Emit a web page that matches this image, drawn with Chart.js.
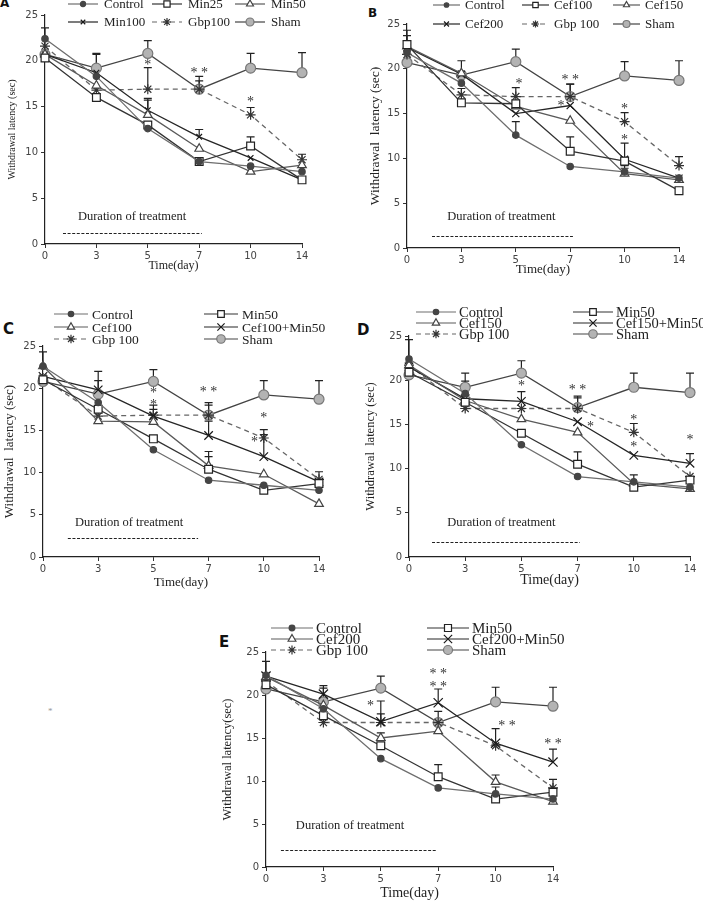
<!DOCTYPE html>
<html><head><meta charset="utf-8">
<script src="https://cdn.jsdelivr.net/npm/chart.js@4/dist/chart.umd.min.js"></script>
<style>
body{margin:0;background:#fff;width:705px;height:902px;position:relative;overflow:hidden}
canvas{position:absolute}
.lbl{position:absolute;font-family:'DejaVu Sans',sans-serif;font-weight:bold;color:#111;line-height:1}
</style></head><body>
<div class="lbl" style="left:0px;top:-3px;font-size:12px">A</div>
<div class="lbl" style="left:368px;top:7px;font-size:12px">B</div>
<div class="lbl" style="left:3px;top:322px;font-size:15px">C</div>
<div class="lbl" style="left:357px;top:323px;font-size:15px">D</div>
<div class="lbl" style="left:219px;top:635px;font-size:15px">E</div>
<div style="position:absolute;left:48px;top:706px;font:9px 'Liberation Serif';color:#999">*</div>
<canvas id="cA"></canvas><canvas id="cB"></canvas><canvas id="cC"></canvas><canvas id="cD"></canvas><canvas id="cE"></canvas>
<script>
// ---------- data ----------
const days = ['0','3','5','7','10','14'];
const yTicks = [0,5,10,15,20,25];

// Panel A
const aControl = [22.4, 18.3, 12.6, 9.0, 8.5, 7.9];
const aMin25   = [20.3, 16.0, 13.0, 9.0, 10.7, 7.0];
const aMin50   = [20.7, 17.3, 14.1, 10.4, 7.9, 8.6];
const aMin100  = [20.7, 18.7, 14.6, 11.7, 9.4, 7.0];
const aGbp     = [21.6, 16.8, 16.9, 16.9, 14.1, 9.2];
const aSham    = [20.7, 19.2, 20.8, 16.9, 19.2, 18.7];
const aControlErr = [1.2, 0, 0, 0, 0, 0];
const aMin25Err   = [0, 0, 0, 0, 1.0, 0];
const aMin50Err   = [0, 0, 1.6, 0, 0, 0];
const aMin100Err  = [0, 2.0, 1.3, 0.8, 0, 0];
const aGbpErr     = [0, 0, 2.35, 0.9, 0.8, 0.6];
const aShamErr    = [0, 1.6, 1.4, 1.4, 1.6, 2.2];
const aStars = [[2, 19.8, '*'], [3, 19.0, '* *'], [4, 15.8, '*']];

// Panel B
const bControl = [21.8, 18.4, 12.6, 9.1, 8.5, 7.8];
const bCef100  = [22.7, 16.2, 16.1, 10.8, 9.7, 6.4];
const bCef150  = [22.5, 19.5, 15.8, 14.2, 8.3, 7.6];
const bCef200  = [22.4, 19.4, 15.0, 15.9, 9.9, 7.8];
const bGbp     = [21.6, 17.1, 16.9, 16.9, 14.1, 9.2];
const bSham    = [20.7, 19.3, 20.8, 16.9, 19.2, 18.7];
const bControlErr = [1.9, 0, 1.5, 0, 0.7, 0];
const bCef100Err  = [1.6, 0, 0, 1.6, 0, 0];
const bCef150Err  = [0, 0, 0, 0, 0.6, 0];
const bCef200Err  = [0, 0, 0, 0, 1.8, 0];
const bGbpErr     = [0, 0.7, 1.0, 1.4, 1.0, 1.0];
const bShamErr    = [0, 1.6, 1.4, 1.4, 1.6, 2.2];
const bStars = [[2.06, 18.6, '*'], [3, 19.05, '* *'], [2.83, 16.2, '*'], [4, 15.8, '*'], [4, 12.3, '*']];

// Panel C
const cControl = [22.6, 18.3, 12.7, 9.1, 8.5, 7.9];
const cMin50   = [21.0, 17.5, 14.0, 10.4, 7.9, 8.7];
const cCef100  = [22.6, 16.1, 16.0, 10.8, 9.8, 6.3];
const cCombo   = [21.4, 19.8, 16.7, 14.4, 11.9, 8.9];
const cGbp     = [21.2, 16.7, 16.8, 16.8, 14.1, 9.2];
const cSham    = [20.8, 19.3, 20.8, 16.8, 19.2, 18.7];
const cControlErr = [0, 0, 0, 0, 0, 0];
const cMin50Err   = [0, 0, 0, 1.5, 0, 0];
const cCef100Err  = [1.7, 0, 0, 1.7, 0, 0];
const cComboErr   = [0, 2.2, 1.3, 1.7, 2.6, 0];
const cGbpErr     = [0, 0, 0.7, 1.2, 1.0, 0.9];
const cShamErr    = [0, 1.6, 1.4, 1.5, 1.7, 2.2];
const cStars = [[2, 19.8, '*'], [2, 18.3, '*'], [3, 19.9, '* *'], [4, 16.8, '*'], [3.83, 14.0, '*']];

// Panel D
const dControl = [22.4, 18.5, 12.7, 9.1, 8.5, 7.9];
const dMin50   = [20.9, 17.5, 14.0, 10.5, 7.9, 8.7];
const dCef150  = [21.7, 17.7, 15.6, 14.1, 8.3, 7.7];
const dCombo   = [21.5, 17.9, 17.6, 15.3, 11.5, 10.6];
const dGbp     = [21.7, 16.8, 16.8, 16.8, 14.1, 9.1];
const dSham    = [20.6, 19.2, 20.8, 16.9, 19.2, 18.6];
const dControlErr = [2.2, 0, 0, 0, 0.8, 0];
const dMin50Err   = [0, 0, 0, 1.4, 0, 0];
const dCef150Err  = [0, 0, 0, 0, 0, 0];
const dComboErr   = [0, 2.0, 1.1, 0, 0, 1.1];
const dGbpErr     = [0, 0, 0, 1.2, 1.0, 0];
const dShamErr    = [0, 1.6, 1.4, 1.3, 1.6, 2.2];
const dStars = [[2, 19.6, '*'], [3, 19.2, '* *'], [3.23, 15.0, '*'], [4, 15.75, '*'], [4, 12.7, '*'], [5, 13.5, '*']];

// Panel E
const eControl = [22.3, 18.4, 12.6, 9.2, 8.5, 7.9];
const eMin50   = [21.2, 17.6, 14.1, 10.5, 7.9, 8.7];
const eCef200  = [22.1, 18.8, 15.0, 15.8, 9.9, 7.6];
const eCombo   = [22.2, 20.1, 16.9, 19.1, 14.4, 12.2];
const eGbp     = [21.6, 16.8, 16.8, 16.8, 14.1, 9.2];
const eSham    = [20.7, 19.2, 20.8, 16.8, 19.2, 18.7];
const eControlErr = [1.6, 0, 0, 0, 0.8, 0];
const eMin50Err   = [0, 0, 0, 1.4, 0, 0];
const eCef200Err  = [0, 0, 0.6, 0, 0.8, 0];
const eComboErr   = [0, 1.0, 2.4, 1.6, 1.7, 1.5];
const eGbpErr     = [0, 0, 1.0, 1.3, 0, 1.0];
const eShamErr    = [0, 1.6, 1.4, 0, 1.7, 2.2];
const eStars = [[1.82, 19.0, '*'], [3, 22.7, '* *'], [3, 21.2, '* *'], [4.2, 16.7, '* *'], [5, 14.65, '* *']];

// ---------- styles ----------
const ST = {
  control: {borderColor:'#6e6e6e', pointBackgroundColor:'#454545', pointBorderColor:'#454545', pointStyle:'circle', pointRadius:3.2},
  sq:      {borderColor:'#333', pointBackgroundColor:'#fff', pointBorderColor:'#222', pointStyle:'rect', pointRadius:5.5},
  tri:     {borderColor:'#5a5a5a', pointBackgroundColor:'#fff', pointBorderColor:'#444', pointStyle:'triangle', pointRadius:5},
  x:       {borderColor:'#262626', pointBackgroundColor:'#fff', pointBorderColor:'#1a1a1a', pointStyle:'crossRot', pointRadius:5},
  gbp:     {borderColor:'#666', borderDash:[5,4], pointBackgroundColor:'#fff', pointBorderColor:'#333', pointStyle:'star', pointRadius:5},
  sham:    {borderColor:'#444', pointBackgroundColor:'#b3b3b3', pointBorderColor:'#777', pointStyle:'circle', pointRadius:5}
};
function ds(label, data, st, extra) {
  return Object.assign({label, data, borderWidth:1.3, pointBorderWidth:1.2, fill:false, tension:0}, ST[st], extra||{});
}

function drawMarker(ctx, d, x, y) {
  ctx.save();
  ctx.setLineDash([]);
  ctx.fillStyle = d.pointBackgroundColor || '#fff';
  ctx.strokeStyle = d.pointBorderColor;
  ctx.lineWidth = d.pointBorderWidth || 1.2;
  Chart.helpers.drawPoint(ctx, {pointStyle:d.pointStyle, radius:d.pointRadius, rotation:0, borderWidth:ctx.lineWidth}, x, y);
  ctx.restore();
}

function makePanel(P) {
  const cv = document.getElementById(P.id);
  const W = P.chart.right + P.padRight - P.canvas.left;
  const H = P.canvas.bottom - P.canvas.top;
  cv.width = W; cv.height = H;
  cv.style.left = P.canvas.left + 'px'; cv.style.top = P.canvas.top + 'px';
  cv.style.width = W + 'px'; cv.style.height = H + 'px';
  const padTop = P.chart.top - P.canvas.top;
  const yW = P.chart.left - P.canvas.left;
  const xH = P.canvas.bottom - P.chart.bottom;

  const overlay = {
    id: 'overlay_' + P.id,
    beforeDatasetsDraw(chart) {
      const {ctx} = chart, xs = chart.scales.x, ys = chart.scales.y;
      ctx.save(); ctx.strokeStyle = '#222'; ctx.lineWidth = 1.2; ctx.setLineDash([]);
      P.errs.forEach((arr, di) => {
        const vals = chart.data.datasets[di].data;
        arr.forEach((e, j) => {
          if (!e) return;
          const px = xs.getPixelForValue(j), p0 = ys.getPixelForValue(vals[j]), p1 = ys.getPixelForValue(vals[j] + e);
          ctx.beginPath(); ctx.moveTo(px, p0); ctx.lineTo(px, p1);
          ctx.moveTo(px - 4, p1); ctx.lineTo(px + 4, p1); ctx.stroke();
        });
      });
      ctx.restore();
    },
    afterDraw(chart) {
      const {ctx} = chart, xs = chart.scales.x, ys = chart.scales.y;
      ctx.save();
      // significance stars
      ctx.fillStyle = '#333'; ctx.font = P.starFont; ctx.textAlign = 'center'; ctx.textBaseline = 'middle';
      P.stars.forEach(([i, v, t]) => ctx.fillText(t, xs.getPixelForValue(i), ys.getPixelForValue(v) + 3));
      // duration of treatment
      const D = P.dur;
      ctx.fillStyle = '#222'; ctx.font = '12.5px "Liberation Serif"'; ctx.textAlign = 'left';
      ctx.fillText('Duration of treatment', xs.getPixelForValue(D.textI), ys.getPixelForValue(D.textV));
      ctx.strokeStyle = '#222'; ctx.lineWidth = 1; ctx.setLineDash([3, 1.6]);
      ctx.beginPath();
      const ly = Math.round(ys.getPixelForValue(D.lineV)) + 0.5;
      ctx.moveTo(xs.getPixelForValue(D.lineI0), ly); ctx.lineTo(xs.getPixelForValue(D.lineI1), ly); ctx.stroke();
      // legend
      const L = P.legend;
      ctx.font = L.font; ctx.textBaseline = 'middle'; ctx.textAlign = 'left';
      P.legendPos.forEach(([c, r], di) => {
        const d = chart.data.datasets[di];
        const x0 = L.cols[c] - P.canvas.left, yy = L.rows[r] - P.canvas.top;
        ctx.strokeStyle = d.borderColor; ctx.lineWidth = 1.2; ctx.setLineDash(d.borderDash || []);
        ctx.beginPath(); ctx.moveTo(x0, yy); ctx.lineTo(x0 + L.len, yy); ctx.stroke();
        drawMarker(ctx, Object.assign({}, d, {pointRadius: d.pointRadius * (L.mk || 1)}), x0 + L.len / 2, yy);
        ctx.fillStyle = '#222';
        ctx.fillText(d.label, x0 + L.len + L.gap, yy + 1);
      });
      ctx.restore();
    }
  };

  new Chart(cv, {
    type: 'line',
    data: {labels: days, datasets: P.datasets},
    options: {
      responsive: false, animation: false, devicePixelRatio: 1,
      layout: {padding: {top: padTop, right: P.padRight, left: 0, bottom: 0}},
      plugins: {legend: {display: false}, tooltip: {enabled: false}},
      scales: {
        x: {
          type: 'category', offset: false,
          grid: {display: true, drawOnChartArea: false, drawTicks: true, tickLength: 4, color: '#333'},
          border: {display: true, color: '#222', width: 1.2},
          ticks: {font: {family: 'DejaVu Sans', size: 10}, color: '#444', padding: 2, maxRotation: 0, autoSkip: false},
          title: {display: true, text: 'Time(day)', font: {family: 'Liberation Serif', size: P.xTitleSize}, color: '#222', padding: {top: 0, bottom: P.xTitlePad}},
          afterFit: s => { s.height = xH; }
        },
        y: {
          min: 0, max: 25,
          afterBuildTicks: s => { s.ticks = yTicks.map(v => ({value: v})); },
          grid: {display: true, drawOnChartArea: false, drawTicks: true, tickLength: 4, color: '#333'},
          border: {display: true, color: '#222', width: 1.2},
          ticks: {font: {family: 'DejaVu Sans', size: 10}, color: '#444', padding: 3},
          title: {display: true, text: P.yTitle, font: {family: 'Liberation Serif', size: P.yTitleSize}, color: '#222', padding: {top: P.yTitlePad, bottom: 0}},
          afterFit: s => { s.width = yW; }
        }
      }
    },
    plugins: [overlay]
  });
}

// ---------- panels ----------
makePanel({
  id: 'cA', canvas: {left: 2, top: 0, bottom: 277}, chart: {left: 45, top: 15, right: 302, bottom: 244}, padRight: 12,
  xTitleSize: 12, xTitlePad: 4, yTitle: 'Withdrawal latency (sec)', yTitleSize: 10, yTitlePad: 4, starFont: '14px "Liberation Serif"',
  datasets: [ds('Control', aControl, 'control'), ds('Min25', aMin25, 'sq'), ds('Min50', aMin50, 'tri'),
             ds('Min100', aMin100, 'x', {pointRadius: 4}), ds('Gbp100', aGbp, 'gbp'), ds('Sham', aSham, 'sham')],
  errs: [aControlErr, aMin25Err, aMin50Err, aMin100Err, aGbpErr, aShamErr],
  stars: aStars,
  dur: {textI: 0.64, textV: 2.95, lineI0: 0.35, lineI1: 3.05, lineV: 1.2},
  legend: {cols: [68, 152, 235], rows: [4, 22], len: 30, gap: 6, font: '13px "Liberation Serif"', mk: 0.8},
  legendPos: [[0,0],[1,0],[2,0],[0,1],[1,1],[2,1]]
});
makePanel({
  id: 'cB', canvas: {left: 363, top: 0, bottom: 281}, chart: {left: 407, top: 24, right: 679, bottom: 248}, padRight: 14,
  xTitleSize: 13, xTitlePad: 4, yTitle: 'Withdrawal  latency (sec)', yTitleSize: 13.5, yTitlePad: 4, starFont: '14px "Liberation Serif"',
  datasets: [ds('Control', bControl, 'control'), ds('Cef100', bCef100, 'sq'), ds('Cef150', bCef150, 'tri'),
             ds('Cef200', bCef200, 'x'), ds('Gbp 100', bGbp, 'gbp'), ds('Sham', bSham, 'sham')],
  errs: [bControlErr, bCef100Err, bCef150Err, bCef200Err, bGbpErr, bShamErr],
  stars: bStars,
  dur: {textI: 0.74, textV: 3.46, lineI0: 0.46, lineI1: 3.05, lineV: 1.34},
  legend: {cols: [433, 522, 613], rows: [5, 24], len: 27, gap: 5, font: '13px "Liberation Serif"', mk: 0.7},
  legendPos: [[0,0],[1,0],[2,0],[0,1],[1,1],[2,1]]
});
makePanel({
  id: 'cC', canvas: {left: 0, top: 295, bottom: 594}, chart: {left: 43, top: 346, right: 319, bottom: 557}, padRight: 14,
  xTitleSize: 13, xTitlePad: 4, yTitle: 'Withdrawal  latency (sec)', yTitleSize: 13, yTitlePad: 2, starFont: '14px "Liberation Serif"',
  datasets: [ds('Control', cControl, 'control'), ds('Min50', cMin50, 'sq'), ds('Cef100', cCef100, 'tri'),
             ds('Cef100+Min50', cCombo, 'x', {pointRadius: 6}), ds('Gbp 100', cGbp, 'gbp'), ds('Sham', cSham, 'sham')],
  errs: [cControlErr, cMin50Err, cCef100Err, cComboErr, cGbpErr, cShamErr],
  stars: cStars,
  dur: {textI: 0.58, textV: 4.03, lineI0: 0.45, lineI1: 2.81, lineV: 2.25},
  legend: {cols: [54, 204], rows: [314, 327, 339], len: 34, gap: 4, font: '13.5px "Liberation Serif"', mk: 0.85},
  legendPos: [[0,0],[1,0],[0,1],[1,1],[0,2],[1,2]]
});
makePanel({
  id: 'cD', canvas: {left: 359, top: 295, bottom: 593}, chart: {left: 409, top: 336, right: 690, bottom: 557}, padRight: 13,
  xTitleSize: 14, xTitlePad: 4, yTitle: 'Withdrawal  latency (sec)', yTitleSize: 12.5, yTitlePad: 4, starFont: '14px "Liberation Serif"',
  datasets: [ds('Control', dControl, 'control'), ds('Min50', dMin50, 'sq'), ds('Cef150', dCef150, 'tri'),
             ds('Cef150+Min50', dCombo, 'x', {pointRadius: 6}), ds('Gbp 100', dGbp, 'gbp'), ds('Sham', dSham, 'sham')],
  errs: [dControlErr, dMin50Err, dCef150Err, dComboErr, dGbpErr, dShamErr],
  stars: dStars,
  dur: {textI: 0.68, textV: 3.9, lineI0: 0.41, lineI1: 3.04, lineV: 1.72},
  legend: {cols: [416, 573], rows: [312, 323, 334], len: 40, gap: 3, font: '14.5px "Liberation Serif"', mk: 0.85},
  legendPos: [[0,0],[1,0],[0,1],[1,1],[0,2],[1,2]]
});
makePanel({
  id: 'cE', canvas: {left: 216, top: 605, bottom: 902}, chart: {left: 266, top: 652, right: 553, bottom: 867}, padRight: 14,
  xTitleSize: 14, xTitlePad: 0, yTitle: 'Withdrawal latency(sec)', yTitleSize: 12.5, yTitlePad: 4, starFont: '14px "Liberation Serif"',
  datasets: [ds('Control', eControl, 'control'), ds('Min50', eMin50, 'sq'), ds('Cef200', eCef200, 'tri'),
             ds('Cef200+Min50', eCombo, 'x', {pointRadius: 6.5}), ds('Gbp 100', eGbp, 'gbp'), ds('Sham', eSham, 'sham')],
  errs: [eControlErr, eMin50Err, eCef200Err, eComboErr, eGbpErr, eShamErr],
  stars: eStars,
  dur: {textI: 0.52, textV: 4.77, lineI0: 0.26, lineI1: 2.98, lineV: 1.98},
  legend: {cols: [271, 427], rows: [628, 639, 650], len: 42, gap: 3, font: '15px "Liberation Serif"', mk: 0.9},
  legendPos: [[0,0],[1,0],[0,1],[1,1],[0,2],[1,2]]
});
</script>
</body></html>
